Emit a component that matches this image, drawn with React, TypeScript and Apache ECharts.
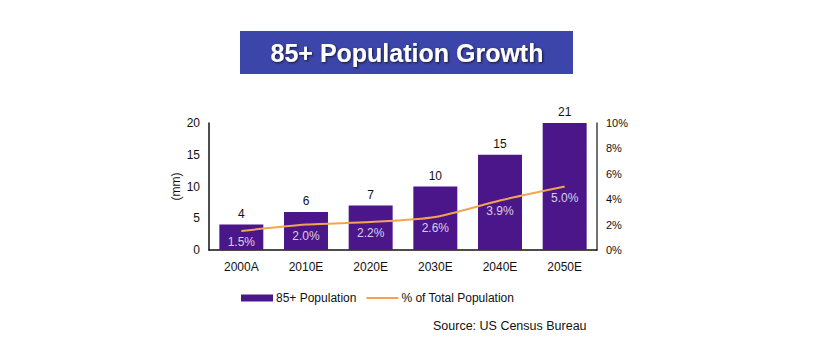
import React, { useEffect, useRef } from "react";
import * as echarts from "echarts";

const categories = ["2000A", "2010E", "2020E", "2030E", "2040E", "2050E"];
const population = [4, 6, 7, 10, 15, 21];
const pctOfTotal = [1.5, 2.0, 2.2, 2.6, 3.9, 5.0];
const leftTicks = { min: 0, max: 20, interval: 5 };
const rightTicks = { min: 0, max: 10, interval: 2 };

const FONT = "'Liberation Sans', Arial, sans-serif";

export default function App() {
  const ref = useRef<HTMLDivElement>(null);
  useEffect(() => {
    if (!ref.current) return;
    const chart = echarts.init(ref.current, null, { renderer: "svg" });
    chart.setOption({
      animation: false,
      backgroundColor: "#ffffff",
      textStyle: { fontFamily: FONT },
      grid: { left: 201, right: 233, top: 115, bottom: 96, containLabel: false },
      graphic: [
        {
          type: "rect",
          shape: { x: 232, y: 23, width: 333, height: 43 },
          style: { fill: "#3c45aa" },
        },
        {
          type: "text",
          x: 399,
          y: 45,
          style: {
            text: "85+ Population Growth",
            fill: "#ffffff",
            font: "bold 25px " + FONT,
            align: "center",
            verticalAlign: "middle",
            textShadowColor: "rgba(0,0,0,0.7)",
            textShadowBlur: 2,
            textShadowOffsetX: 1,
            textShadowOffsetY: 1,
          },
        },
        {
          type: "text",
          x: 425,
          y: 318,
          style: {
            text: "Source: US Census Bureau",
            fill: "#111111",
            font: "12.5px " + FONT,
            verticalAlign: "middle",
          },
        },
      ],
      legend: {
        left: 228,
        top: 279,
        itemWidth: 32,
        itemHeight: 7,
        itemGap: 9,
        textStyle: { fontSize: 12, color: "#111", fontFamily: FONT, padding: [0, 0, 0, -2] },
        data: [
          { name: "85+ Population", icon: "rect" },
          {
            name: "% of Total Population",
            itemStyle: { color: "rgba(0,0,0,0)", borderWidth: 0 },
          },
        ],
      },
      xAxis: {
        type: "category",
        data: categories,
        axisLine: { lineStyle: { color: "#111", width: 1.5 } },
        axisTick: { show: false },
        axisLabel: { color: "#111", fontSize: 12, margin: 11, fontFamily: FONT },
      },
      yAxis: [
        {
          type: "value",
          min: leftTicks.min,
          max: leftTicks.max,
          interval: leftTicks.interval,
          name: "(mm)",
          nameLocation: "middle",
          nameRotate: 90,
          nameGap: 27,
          nameTextStyle: { color: "#111", fontSize: 12, fontFamily: FONT },
          axisLine: { show: true, lineStyle: { color: "#111", width: 1.5 } },
          axisTick: { show: false },
          splitLine: { show: false },
          axisLabel: { color: "#111", fontSize: 12, margin: 9, fontFamily: FONT },
        },
        {
          type: "value",
          min: rightTicks.min,
          max: rightTicks.max,
          interval: rightTicks.interval,
          position: "right",
          axisLine: { show: true, lineStyle: { color: "#444", width: 1.5 } },
          axisTick: { show: false },
          splitLine: { show: false },
          axisLabel: { color: "#111", fontSize: 11, margin: 9, formatter: "{value}%", fontFamily: FONT },
        },
      ],
      series: [
        {
          name: "85+ Population",
          type: "bar",
          data: population,
          barWidth: "68%",
          itemStyle: { color: "#4a1689" },
          label: {
            show: true,
            position: "top",
            distance: 5,
            color: "#111",
            fontSize: 12,
            fontFamily: FONT,
          },
        },
        {
          name: "% of Total Population",
          type: "line",
          yAxisIndex: 1,
          data: pctOfTotal,
          smooth: 0.25,
          symbol: "none",
          lineStyle: { color: "#f2a550", width: 2 },
          itemStyle: { color: "#f2a550" },
        },
        {
          name: "pctLabels",
          type: "scatter",
          yAxisIndex: 1,
          data: pctOfTotal,
          symbol: "circle",
          symbolSize: 0,
          itemStyle: { color: "rgba(0,0,0,0)" },
          silent: true,
          z: 5,
          label: {
            show: true,
            position: "bottom",
            distance: 5,
            color: "#ffffff",
            fontSize: 12,
            fontFamily: FONT,
            formatter: (p: any) => p.value.toFixed(1) + "%",
          },
        },
      ],
    });
    return () => chart.dispose();
  }, []);
  return <div ref={ref} style={{ width: 822, height: 338 }} />;
}
